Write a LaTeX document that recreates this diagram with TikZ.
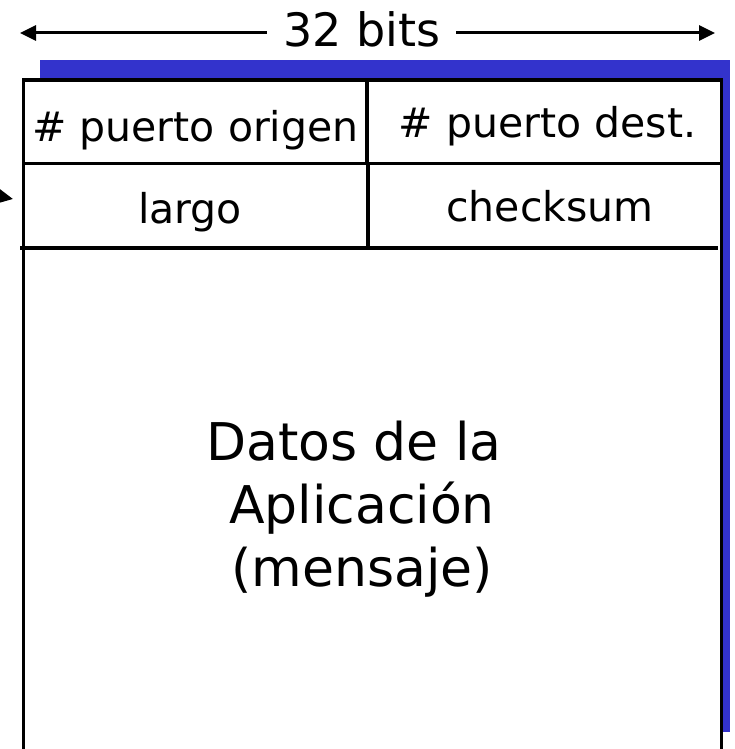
\documentclass[tikz,border=0pt]{standalone}
\usepackage{fontspec}
\setmainfont{DejaVu Sans}
\usetikzlibrary{arrows.meta}
\definecolor{shadowblue}{HTML}{3333CC}
\begin{document}
\begin{tikzpicture}[x=1pt,y=-1pt,
  frame/.style={line width=3.6pt},
  divider/.style={line width=3.2pt},
  arrowline/.style={line width=3pt,-{Triangle[length=16pt,width=15pt]}},
  rowtext/.style={anchor=base,inner sep=0pt,font=\fontsize{41}{49}\selectfont},
  datatext/.style={anchor=base,inner sep=0pt,font=\fontsize{52}{63}\selectfont},
  widthtext/.style={anchor=base,inner ysep=0pt,inner xsep=16pt,font=\fontsize{46}{55}\selectfont}]
\useasboundingbox (0,0) rectangle (734,749);
\clip (0,0) rectangle (734,749);
% shadow and segment box
\fill[shadowblue] (40,60) rectangle (730,732);
\fill[white] (23.5,80) rectangle (721.5,760);
\draw[frame] (23.5,760) -- (23.5,80) -- (721.5,80) -- (721.5,760);
\draw[frame] (23.5,163.3) -- (721.5,163.3);
\draw[frame] (20,248) -- (718,248);
\draw[divider] (367,80) -- (367,163.3);
\draw[divider] (368,163.3) -- (368,248);
% header fields
\node[rowtext] (srcport) at (195.5,141.5) {\# puerto origen};
\node[rowtext] (dstport) at (547.5,137) {\# puerto dest.};
\node[rowtext] (len) at (190,223) {largo};
\node[rowtext] (cks) at (550,221.5) {checksum};
% data
\node[datatext] (data1) at (354,460) {Datos de la};
\node[datatext] (data2) at (362,523) {Aplicación};
\node[datatext] (data3) at (362,586) {(mensaje)};
% width label
\node[widthtext] (width) at (361.6,47) {32 bits};
\coordinate (lefttip) at (20,33);
\coordinate (righttip) at (715,33);
\draw[arrowline] (width.west |- lefttip) -- (lefttip);
\draw[arrowline] (width.east |- righttip) -- (righttip);
% incoming arrow stub
\coordinate (stubstart) at (-8,195);
\coordinate (stubtip) at (13,199);
\draw[arrowline] (stubstart) -- (stubtip);
\end{tikzpicture}
\end{document}
